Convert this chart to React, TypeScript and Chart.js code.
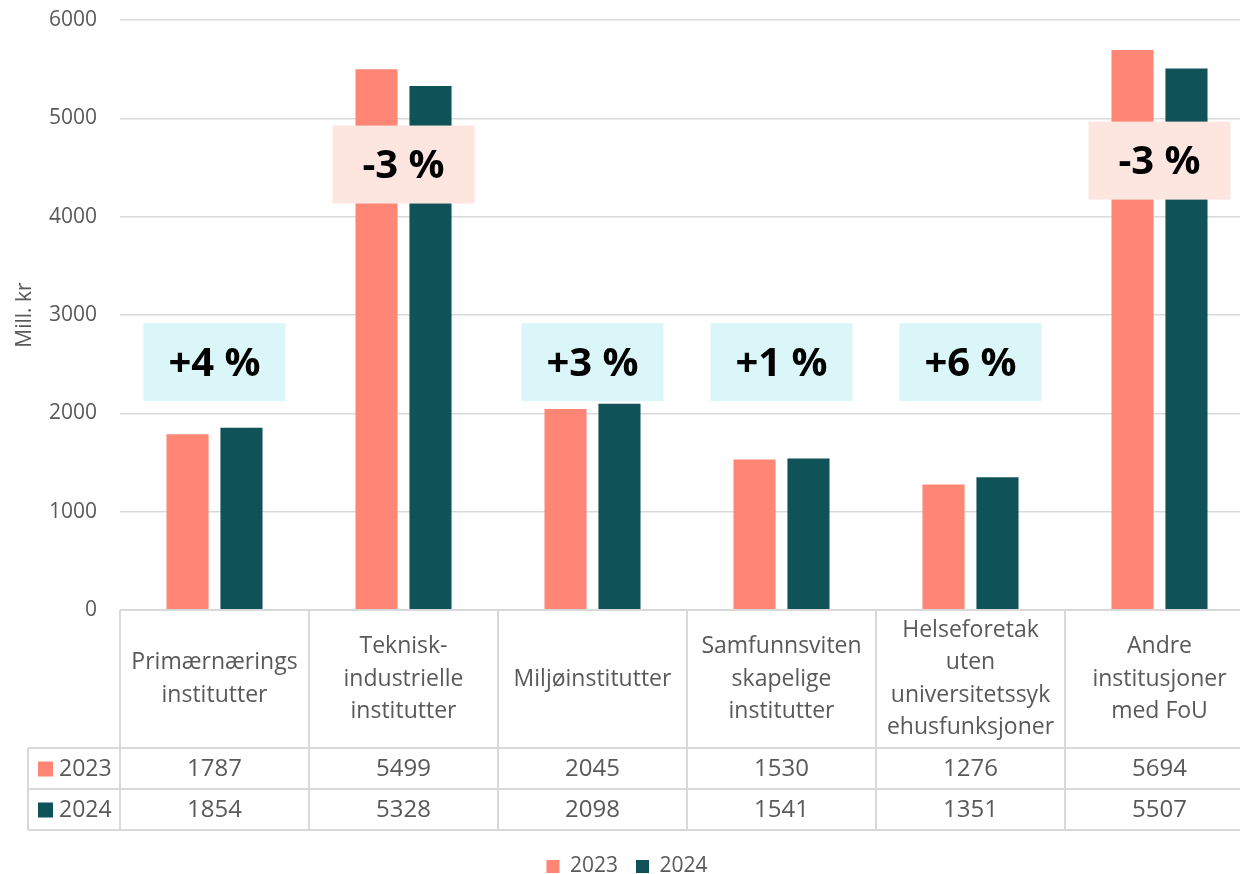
import React, { useEffect, useRef } from 'react';
import { Chart, registerables } from 'chart.js';

Chart.register(...registerables);

// ---------- data ----------
const categories: string[][] = [
  ['Primærnærings', 'institutter'],
  ['Teknisk-', 'industrielle', 'institutter'],
  ['Miljøinstitutter'],
  ['Samfunnsviten', 'skapelige', 'institutter'],
  ['Helseforetak', 'uten', 'universitetssyk', 'ehusfunksjoner'],
  ['Andre', 'institusjoner', 'med FoU'],
];
const seriesNames = ['2023', '2024'];
const values2023 = [1787, 5499, 2045, 1530, 1276, 5694];
const values2024 = [1854, 5328, 2098, 1541, 1351, 5507];
const changeLabels = ['+4 %', '-3 %', '+3 %', '+1 %', '+6 %', '-3 %'];
const changeLabelAt = [2520, 4530, 2520, 2520, 2520, 4570];
const yMin = 0;
const yMax = 6000;
const yStep = 1000;
const yTitle = 'Mill. kr';

// ---------- style ----------
const FONT = '"Open Sans", "Noto Sans", sans-serif';
const COLORS = ['#FF8674', '#0F5257'];
const TEXT = '#595959';
const GRID = '#D9D9D9';
const POS_BOX = '#DBF6F9';
const NEG_BOX = '#FDE5E0';

const CANVAS_W = 1260;
const CANVAS_H = 887;

const tablePlugin = {
  id: 'dataTable',
  afterDraw(chart: any) {
    const { ctx, chartArea, scales } = chart;
    const x = scales.x;
    const n = categories.length;
    const w = chartArea.width / n;
    const top = chartArea.bottom;
    const headerH = 138;
    const rowH = 41;
    const legendLeft = 28;
    const rows = [values2023, values2024];
    ctx.save();
    ctx.strokeStyle = GRID;
    ctx.lineWidth = 2;
    ctx.beginPath();
    ctx.moveTo(chartArea.left, top);
    ctx.lineTo(chartArea.right, top);
    for (let r = 0; r <= rows.length; r++) {
      const yy = top + headerH + r * rowH;
      ctx.moveTo(legendLeft, yy);
      ctx.lineTo(chartArea.right, yy);
    }
    for (let k = 0; k <= n; k++) {
      const xx = chartArea.left + k * w;
      ctx.moveTo(xx, top);
      ctx.lineTo(xx, top + headerH + rows.length * rowH);
    }
    ctx.moveTo(legendLeft, top + headerH);
    ctx.lineTo(legendLeft, top + headerH + rows.length * rowH);
    ctx.stroke();

    ctx.fillStyle = TEXT;
    ctx.textAlign = 'center';
    ctx.textBaseline = 'middle';
    ctx.font = `23px ${FONT}`;
    const lh = 32.5;
    categories.forEach((lines, i) => {
      const cx = x.getPixelForValue(i);
      const cy = top + headerH / 2;
      const start = cy - ((lines.length - 1) * lh) / 2;
      lines.forEach((t, j) => ctx.fillText(t, cx, start + j * lh));
    });

    ctx.font = `24px ${FONT}`;
    rows.forEach((vals, r) => {
      const cy = top + headerH + r * rowH + rowH / 2;
      vals.forEach((v, i) => {
        ctx.fillText(String(v), x.getPixelForValue(i), cy + 1);
      });
      ctx.fillStyle = COLORS[r];
      ctx.fillRect(legendLeft + 10, cy - 7, 15, 15);
      ctx.fillStyle = TEXT;
      ctx.textAlign = 'left';
      ctx.font = `23px ${FONT}`;
      ctx.fillText(seriesNames[r], legendLeft + 31, cy + 1);
      ctx.font = `24px ${FONT}`;
      ctx.textAlign = 'center';
    });
    ctx.restore();
  },
};

const changePlugin = {
  id: 'changeBoxes',
  afterDatasetsDraw(chart: any) {
    const { ctx, scales } = chart;
    const boxW = 142;
    const boxH = 78;
    ctx.save();
    changeLabels.forEach((label, i) => {
      const cx = scales.x.getPixelForValue(i);
      const cy = scales.y.getPixelForValue(changeLabelAt[i]);
      ctx.fillStyle = label.trim().startsWith('-') ? NEG_BOX : POS_BOX;
      ctx.fillRect(cx - boxW / 2, cy - boxH / 2, boxW, boxH);
      ctx.fillStyle = '#000000';
      ctx.font = `bold 40px ${FONT}`;
      ctx.textAlign = 'center';
      ctx.textBaseline = 'middle';
      ctx.fillText(label, cx, cy + 2);
    });
    ctx.restore();
  },
};

export default function App() {
  const ref = useRef<HTMLCanvasElement | null>(null);

  useEffect(() => {
    if (!ref.current) return;
    const chart = new Chart(ref.current, {
      type: 'bar',
      data: {
        labels: categories.map((c) => c.join(' ')),
        datasets: [
          {
            label: seriesNames[0],
            data: values2023,
            backgroundColor: COLORS[0],
            borderWidth: 0,
            barPercentage: 0.78,
            categoryPercentage: 0.571,
          },
          {
            label: seriesNames[1],
            data: values2024,
            backgroundColor: COLORS[1],
            borderWidth: 0,
            barPercentage: 0.78,
            categoryPercentage: 0.571,
          },
        ],
      },
      options: {
        responsive: false,
        animation: false,
        maintainAspectRatio: false,
        layout: { padding: { top: 20, right: 6, left: 0, bottom: 0 } },
        plugins: {
          tooltip: { enabled: false },
          legend: {
            display: true,
            position: 'bottom',
            labels: {
              color: TEXT,
              font: { family: FONT, size: 21 },
              boxWidth: 13,
              boxHeight: 13,
              padding: 18,
            },
          },
        },
        scales: {
          x: {
            type: 'category',
            grid: { display: false },
            border: { display: false },
            ticks: { display: false },
            afterFit: (s: any) => {
              s.height = 228;
            },
          },
          y: {
            min: yMin,
            max: yMax,
            ticks: {
              stepSize: yStep,
              color: TEXT,
              font: { family: FONT, size: 21 },
              padding: 0,
              callback: (v: any) => String(v),
            },
            grid: {
              color: GRID,
              lineWidth: 1.5,
              drawTicks: true,
              tickLength: 23,
              tickColor: 'rgba(0,0,0,0)',
            },
            border: { display: false },
            title: {
              display: true,
              text: yTitle,
              color: TEXT,
              font: { family: FONT, size: 21 },
              padding: { top: 12, bottom: 0 },
            },
            afterFit: (s: any) => {
              s.width = 120;
            },
          },
        },
      },
      plugins: [changePlugin, tablePlugin],
    });
    return () => chart.destroy();
  }, []);

  return (
    <div
      style={{
        position: 'fixed',
        left: 0,
        top: 0,
        width: 1240,
        height: 874,
        overflow: 'hidden',
        background: '#ffffff',
      }}
    >
      <canvas ref={ref} width={CANVAS_W} height={CANVAS_H} style={{ display: 'block' }} />
    </div>
  );
}
